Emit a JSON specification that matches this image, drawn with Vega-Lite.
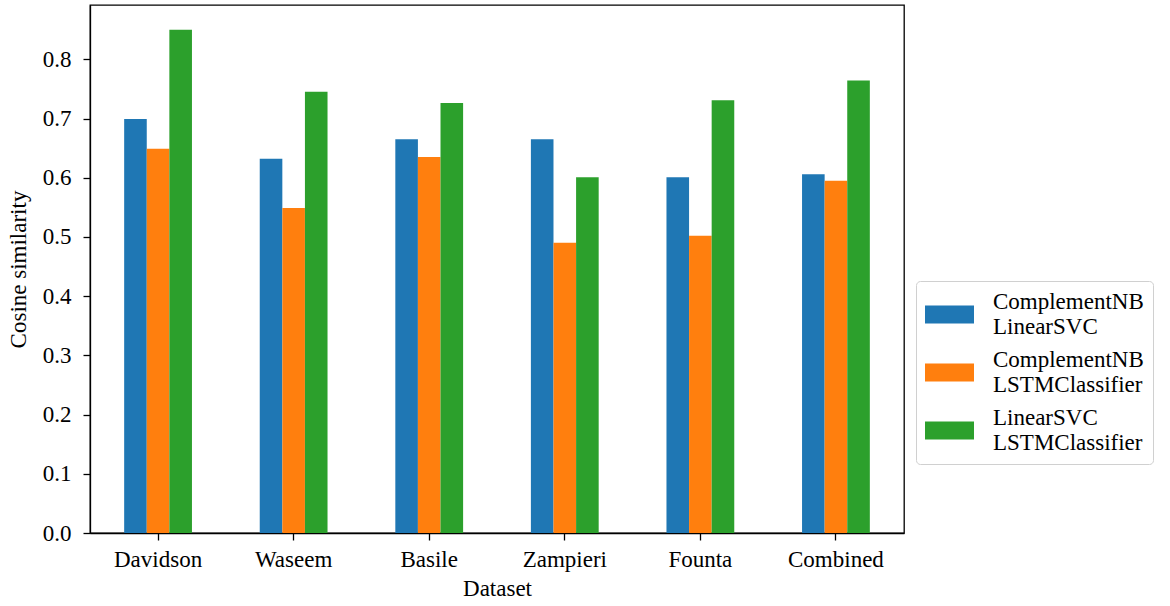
{
  "$schema": "https://vega.github.io/schema/vega-lite/v6.json",
  "width": 814,
  "height": 528,
  "autosize": {"type": "none"},
  "padding": {"left": 90, "top": 5, "right": 266, "bottom": 73},
  "background": "white",
  "config": {
    "font": "Liberation Serif",
    "view": {"stroke": "black", "strokeWidth": 1.3},
    "axis": {
      "domainColor": "black",
      "domainWidth": 1.3,
      "tickColor": "black",
      "tickWidth": 1.3,
      "tickSize": 7,
      "labelFontSize": 23,
      "labelColor": "black",
      "titleFontSize": 23,
      "titleFontWeight": "normal",
      "titleColor": "black",
      "grid": false
    }
  },
  "data": {
    "values": [
      {"dataset": "Davidson", "pair": "ComplementNB LinearSVC", "value": 0.699},
      {"dataset": "Davidson", "pair": "ComplementNB LSTMClassifier", "value": 0.649},
      {"dataset": "Davidson", "pair": "LinearSVC LSTMClassifier", "value": 0.850},
      {"dataset": "Waseem", "pair": "ComplementNB LinearSVC", "value": 0.632},
      {"dataset": "Waseem", "pair": "ComplementNB LSTMClassifier", "value": 0.549},
      {"dataset": "Waseem", "pair": "LinearSVC LSTMClassifier", "value": 0.745},
      {"dataset": "Basile", "pair": "ComplementNB LinearSVC", "value": 0.665},
      {"dataset": "Basile", "pair": "ComplementNB LSTMClassifier", "value": 0.635},
      {"dataset": "Basile", "pair": "LinearSVC LSTMClassifier", "value": 0.726},
      {"dataset": "Zampieri", "pair": "ComplementNB LinearSVC", "value": 0.665},
      {"dataset": "Zampieri", "pair": "ComplementNB LSTMClassifier", "value": 0.490},
      {"dataset": "Zampieri", "pair": "LinearSVC LSTMClassifier", "value": 0.601},
      {"dataset": "Founta", "pair": "ComplementNB LinearSVC", "value": 0.601},
      {"dataset": "Founta", "pair": "ComplementNB LSTMClassifier", "value": 0.502},
      {"dataset": "Founta", "pair": "LinearSVC LSTMClassifier", "value": 0.731},
      {"dataset": "Combined", "pair": "ComplementNB LinearSVC", "value": 0.606},
      {"dataset": "Combined", "pair": "ComplementNB LSTMClassifier", "value": 0.595},
      {"dataset": "Combined", "pair": "LinearSVC LSTMClassifier", "value": 0.764}
    ]
  },
  "mark": {"type": "bar"},
  "encoding": {
    "x": {
      "field": "dataset",
      "type": "nominal",
      "sort": ["Davidson", "Waseem", "Basile", "Zampieri", "Founta", "Combined"],
      "scale": {"paddingInner": 0.5, "paddingOuter": 0.252},
      "axis": {"labelAngle": 0, "title": "Dataset", "labelPadding": 8, "titlePadding": 6}
    },
    "xOffset": {
      "field": "pair",
      "type": "nominal",
      "scale": {
        "domain": ["ComplementNB LinearSVC", "ComplementNB LSTMClassifier", "LinearSVC LSTMClassifier"],
        "paddingInner": 0,
        "paddingOuter": 0
      }
    },
    "y": {
      "field": "value",
      "type": "quantitative",
      "scale": {"domain": [0, 0.8917], "nice": false, "zero": true},
      "axis": {
        "values": [0, 0.1, 0.2, 0.3, 0.4, 0.5, 0.6, 0.7, 0.8],
        "format": ".1f",
        "title": "Cosine similarity",
        "labelPadding": 12,
        "titlePadding": 12
      }
    },
    "color": {
      "field": "pair",
      "type": "nominal",
      "scale": {
        "domain": ["ComplementNB LinearSVC", "ComplementNB LSTMClassifier", "LinearSVC LSTMClassifier"],
        "range": ["#1f77b4", "#ff7f0e", "#2ca02c"]
      },
      "legend": {
        "orient": "none",
        "legendX": 826,
        "legendY": 276,
        "title": null,
        "labelExpr": "split(datum.label, ' ')",
        "labelFontSize": 23,
        "labelColor": "black",
        "labelLimit": 400,
        "labelBaseline": "line-bottom",
        "symbolType": "M-1,-0.367H1V0.367H-1Z",
        "symbolSize": 2401,
        "symbolStrokeWidth": 0,
        "symbolOpacity": 1,
        "strokeColor": "#d0d0d0",
        "cornerRadius": 4,
        "fillColor": "white",
        "padding": 9,
        "labelOffset": 19,
        "rowPadding": 9
      }
    }
  }
}
